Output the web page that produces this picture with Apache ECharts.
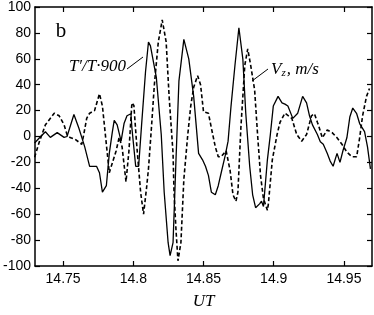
<!DOCTYPE html>
<html>
<head>
<meta charset="utf-8">
<script src="https://cdn.jsdelivr.net/npm/echarts@6/dist/echarts.min.js"></script>
<style>
html,body{margin:0;padding:0;background:#fff;}
#chart{width:374px;height:315px;}
</style>
</head>
<body>
<div id="chart"></div>
<script>
// Solid series: T'/T*900
var tempX = [14.7297,14.7332,14.7374,14.7409,14.7458,14.7507,14.7528,14.7577,14.7612,14.7633,14.7654,14.7689,14.7738,14.7759,14.7780,14.7808,14.7829,14.7850,14.7864,14.7885,14.7913,14.7934,14.7955,14.7983,14.7990,14.8017,14.8038,14.8059,14.8087,14.8108,14.8122,14.8164,14.8199,14.8220,14.8248,14.8262,14.8283,14.8304,14.8325,14.8360,14.8395,14.8430,14.8465,14.8493,14.8514,14.8535,14.8556,14.8584,14.8605,14.8626,14.8654,14.8675,14.8696,14.8724,14.8752,14.8780,14.8801,14.8829,14.8850,14.8871,14.8899,14.8913,14.8927,14.8955,14.8976,14.8997,14.9031,14.9059,14.9080,14.9101,14.9136,14.9171,14.9206,14.9234,14.9255,14.9276,14.9311,14.9332,14.9353,14.9381,14.9402,14.9423,14.9451,14.9472,14.9493,14.9521,14.9542,14.9563,14.9591,14.9612,14.9647,14.9668,14.9689];
var tempY = [-5,-1,3.7,-0.7,3,-0.7,0,17,6.6,-0.7,-8,-23,-23,-28,-43,-38,-13,3,12.5,9,-3.6,10,16,17.6,6.6,-23,-23,9,50,73,70,45.6,1.5,-43,-82,-92,-82,-18,43,75,60,31,-13,-18,-23,-30,-43,-45,-38,-28,-15,-3.6,23.5,55,84,60,18,-23,-45,-55,-52,-50,-54,-18,1.5,23.5,31,26,25,23.5,14,18,31,26,16,9,1.5,-4,-6,-13,-19,-23,-13,-20,-11,-1,15,22,17.6,10,3.7,-8,-25];

// Dashed series: Vz, m/s
var vzX = [14.7297,14.7332,14.7374,14.7437,14.7472,14.7507,14.7528,14.7549,14.7584,14.7633,14.7647,14.7668,14.7689,14.7724,14.7759,14.7780,14.7808,14.7829,14.7850,14.7878,14.7899,14.7920,14.7948,14.7969,14.7990,14.8004,14.8024,14.8052,14.8073,14.8094,14.8108,14.8129,14.8150,14.8178,14.8206,14.8234,14.8255,14.8283,14.8290,14.8304,14.8318,14.8339,14.8360,14.8388,14.8409,14.8430,14.8458,14.8479,14.8500,14.8535,14.8556,14.8584,14.8605,14.8626,14.8661,14.8689,14.8710,14.8731,14.8745,14.8766,14.8794,14.8815,14.8836,14.8864,14.8885,14.8906,14.8927,14.8955,14.8962,14.8990,14.9024,14.9045,14.9080,14.9129,14.9164,14.9199,14.9234,14.9269,14.9290,14.9311,14.9318,14.9346,14.9381,14.9416,14.9451,14.9486,14.9521,14.9556,14.9591,14.9612,14.9633,14.9661,14.9682];
var vzY = [-16,-3.6,9,18,16,9,1.5,-0.7,-2,-6,1.5,14,18,20,33,23.5,-6,-28,-20.6,-11,-0.7,-8,-35,-11,26,24,-6,-43,-60,-40,-25,6.6,40,73,90,73,31,-13,-43,-72,-96,-82,-33,1.5,23.5,38,47,40,19,18,6.6,-8,-15.6,-15.6,-11,-26,-45,-50,-43,6.6,55,67.6,55,36,1.5,-30,-48,-57,-52,-18,1.5,11,18,14,1.5,-3.6,1.5,16,17.6,11,9,-1,5,3,-1,-6,-12,-15.6,-15.6,-1,16,31,37];

// Axis ticks
var xTicks = [14.75, 14.8, 14.85, 14.9, 14.95];
var xMin = 14.73, xMax = 14.97;
var yMin = -100, yMax = 100, yStep = 20;

function pairs(xs, ys){ var out=[]; for(var i=0;i<xs.length;i++) out.push([xs[i], ys[i]]); return out; }

var chart = echarts.init(document.getElementById('chart'));
var axisLine = {show:true, onZero:false, lineStyle:{color:'#000', width:1.5}};
var labelFont = {color:'#000', fontFamily:'"Liberation Sans", Arial, sans-serif', fontSize:14};
chart.setOption({
  animation:false,
  backgroundColor:'#fff',
  grid:{left:30, right:2, top:6, bottom:37, containLabel:false},
  xAxis:[{
    type:'value', min:xMin, max:xMax, position:'bottom',
    axisLine:axisLine,
    axisTick:{show:true, inside:true, length:5, customValues:xTicks, lineStyle:{color:'#000', width:1.2}},
    axisLabel:Object.assign({margin:6, customValues:xTicks, formatter:function(v){return String(+v.toFixed(2));}}, labelFont),
    splitLine:{show:false},
    name:'UT', nameLocation:'middle', nameGap:27,
    nameTextStyle:{fontFamily:'"Liberation Serif", "Times New Roman", serif', fontStyle:'italic', fontSize:17, color:'#000'}
  },{
    type:'value', min:xMin, max:xMax, position:'top',
    axisLine:axisLine,
    axisTick:{show:true, inside:true, length:5, customValues:xTicks, lineStyle:{color:'#000', width:1.2}},
    axisLabel:{show:false}, splitLine:{show:false}
  }],
  yAxis:[{
    type:'value', min:yMin, max:yMax, interval:yStep, position:'left',
    axisLine:axisLine,
    axisTick:{show:true, inside:true, length:5, lineStyle:{color:'#000', width:1.2}},
    axisLabel:Object.assign({margin:4}, labelFont),
    splitLine:{show:false}
  },{
    type:'value', min:yMin, max:yMax, interval:yStep, position:'right',
    axisLine:axisLine,
    axisTick:{show:true, inside:true, length:5, lineStyle:{color:'#000', width:1.2}},
    axisLabel:{show:false}, splitLine:{show:false}
  }],
  series:[{
    type:'line', name:"T'/T·900", data:pairs(tempX,tempY), showSymbol:false, symbol:'none',
    lineStyle:{color:'#000', width:1.3}, smooth:false, clip:true
  },{
    type:'line', name:'Vz', data:pairs(vzX,vzY), showSymbol:false, symbol:'none',
    lineStyle:{color:'#000', width:1.6, type:[4,2.5]}, smooth:false, clip:true
  }],
  graphic:[
    {type:'text', x:61, y:31, style:{text:'b', font:'21px "Liberation Serif", serif', fill:'#000', align:'center', verticalAlign:'middle', textAlign:'center', textVerticalAlign:'middle'}},
    {type:'text', x:126, y:67, style:{text:'T′/T·900', font:'italic 17px "Liberation Serif", serif', fill:'#000', align:'right', verticalAlign:'middle', textAlign:'right', textVerticalAlign:'middle'}},
    {type:'line', shape:{x1:127, y1:69, x2:143, y2:57}, style:{stroke:'#000', lineWidth:1}},
    {type:'line', shape:{x1:252, y1:81, x2:268, y2:69}, style:{stroke:'#000', lineWidth:1}},
    {type:'text', x:271, y:70, style:{
      text:'{i|V}{s|z}{i|, m/s}', verticalAlign:'middle', textVerticalAlign:'middle', fill:'#000',
      rich:{
        i:{font:'italic 17px "Liberation Serif", serif', fill:'#000', verticalAlign:'middle'},
        s:{font:'italic 11px "Liberation Serif", serif', fill:'#000', verticalAlign:'bottom', padding:[6,1,0,0]}
      }
    }}
  ]
});
</script>
</body>
</html>
